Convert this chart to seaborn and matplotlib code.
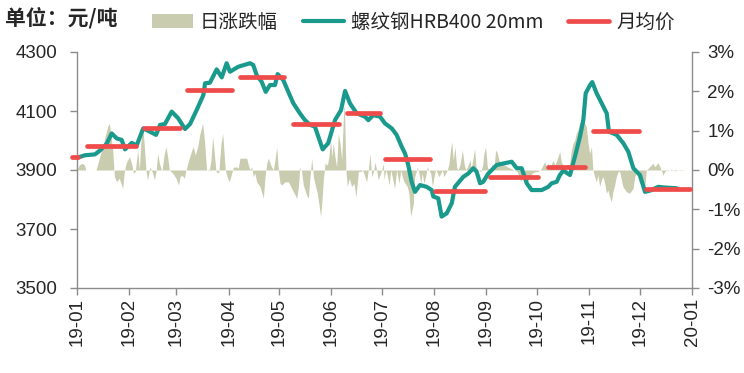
import numpy as np
import pandas as pd
import matplotlib
matplotlib.use("Agg")
import matplotlib.pyplot as plt
import seaborn as sns
from matplotlib.patches import Patch
from matplotlib.lines import Line2D
from matplotlib.ticker import FuncFormatter
import matplotlib.dates as mdates

# ---------------- data ----------------
# daily rebar price (元/吨), day offsets from 2019-01-01
price_day = [1, 4.7, 10.7, 13.6, 17.6, 20.6, 23.6, 26.5, 28.5, 32.5, 35.4, 39.3, 43.3, 46.9,
             49.3, 52.2, 56.2, 60.1, 64.1, 67.1, 71.0, 75.0, 76.0, 78.9, 82.9, 85.9, 88.8,
             90.8, 95.7, 102.7, 104.6, 106.6, 109.6, 112.0, 114.5, 117.5, 119.1, 122.4,
             125.4, 128.4, 132.3, 135.3, 138.3, 141.2, 145.8, 149.1, 153.1, 156.7, 159.1,
             162.0, 166.0, 170.9, 172.9, 175.8, 179.8, 182.8, 186.8, 189.7, 192.7, 194.7,
             196.6, 198.6, 200.6, 203.6, 207.5, 210.5, 211.5, 214.4, 216.4, 219.4, 222.4,
             224.3, 229.3, 232.2, 235.2, 237.2, 239.2, 241.1, 244.1, 249.1, 253.0, 258.0,
             261.0, 263.9, 266.9, 269.8, 275.8, 279.7, 281.7, 284.7, 286.6, 288.6, 292.6,
             295.5, 298.5, 300.5, 301.9, 304.5, 305.8, 308.4, 311.4, 314.4, 315.7, 320.3,
             324.2, 327.2, 330.2, 334.1, 337.1, 340.1, 345.0, 348.0, 356.0]
price_val = [3943, 3950, 3953, 3966, 3989, 4024, 4007, 4002, 3970, 3992, 3983, 4041, 4030, 4019,
             4053, 4056, 4098, 4075, 4039, 4056, 4103, 4154, 4194, 4196, 4241, 4214, 4262,
             4233, 4250, 4262, 4256, 4222, 4199, 4165, 4188, 4188, 4225, 4205,
             4165, 4126, 4092, 4069, 4053, 4047, 3970, 3991, 4069, 4103, 4168,
             4126, 4092, 4081, 4069, 4086, 4081, 4058, 4041, 4019, 3979, 3956,
             3917, 3860, 3826, 3849, 3843, 3832, 3810, 3804, 3742, 3753, 3787,
             3843, 3877, 3888, 3906, 3894, 3855, 3860, 3888, 3917, 3922, 3928,
             3906, 3906, 3855, 3832, 3832, 3843, 3855, 3860, 3883, 3898, 3883,
             3945, 4013, 4069, 4160, 4188, 4198, 4160, 4126, 4092, 4030, 4019,
             3991, 3962, 3906, 3883, 3826, 3830, 3843, 3841, 3838]

# monthly average price segments (start/end day offsets, value)
avg_start = [-3, 6, 40, 65, 97, 128, 160, 183, 212.5, 245, 279.5, 306, 337.7]
avg_end = [0.6, 35, 61, 92, 123, 155.5, 180, 209.5, 242, 273.5, 301.5, 333.5, 363.8]
avg_val = [3944, 3981, 4042, 4171, 4216, 4056, 4094, 3938, 3830, 3877, 3911, 4033, 3837]

# daily change (%)
chg_day = [0.4, 1.4, 3, 4.4, 5.3, 11.3, 15.2, 18.2, 19.2, 21.2, 22.2, 23.5, 25.1, 27.1, 28.1, 29.1,
           31.1, 32.6, 33.4, 34.6, 36, 37, 38, 39, 40, 41, 41.9, 43.3, 44.9, 45.9, 46.9, 47.9,
           48.9, 50.4, 51.8, 52.8, 53.8, 54.8, 56.8, 58.8, 60.3, 61.1, 62.3, 63.7, 64.7, 66.3,
           68.2, 69, 70.2, 71.6, 73, 74.6, 75.8, 76.9, 78.5, 79.5, 80.5, 81.5, 82.5, 84.1, 85.5,
           86.5, 88, 89.4, 90.4,
           91.8, 92.8, 94.8, 95.7, 96.7, 100.7, 101.7, 102.7, 103.7, 104.6, 105.6, 106.6, 108.6,
           110.6, 111.6, 112.6, 113.6, 114.9, 116.5, 117.5, 118.5, 119.5, 120.5, 121.5, 123.4,
           125.4, 126.4, 128.4, 130.4, 131.4, 132.3, 133.3, 134.3, 136.3, 137.3, 138.3, 139.3,
           140.3, 141.2, 142.6, 143.8, 144.6, 145.4, 146.2, 147.2, 148.6, 149.5, 150.5, 151.3,
           152.1, 153.1, 154.1, 155.1, 156.1, 157.1, 158.1, 158.7, 159.6, 160.4, 161.6, 163,
           164.4, 165.6, 167, 168.3, 169.5, 170.9, 171.9, 172.9, 173.9, 174.9, 175.9, 176.9,
           177.8, 178.8, 179.8, 180.8, 181.8,
           182.2, 183.2, 184.2, 185.2, 186.2, 187.1, 188.5, 189.7, 191.1, 192.1, 193.1, 194.1,
           196.0, 197.0, 198.0, 199.6, 200.4, 201.6, 202, 203, 204, 204.9, 205.9, 206.9, 207.9,
           208.9, 209.9, 210.9, 211.9, 212.9, 213.9, 214.8, 216.8, 217.8, 218.8, 219.8, 220.8,
           221.4, 222.4, 223.3, 224.3, 225.3, 226.1, 227.3, 228.7, 229.7, 230.7, 231.7, 233.2,
           234, 235.2, 236, 236.8, 238, 239.6, 240.8, 241.5, 242.5, 243.5, 244.5, 245.5, 246.5,
           247.5, 248.5, 249.5, 250.4, 251.4, 253.4, 255.4, 257.4, 259.4, 261.3, 262.3, 263.3,
           264.3, 265.3, 266.3, 267.3, 268.3, 270.2, 272.2, 273.2,
           274.6, 275.6, 276.6, 277.6, 278.5, 279.5, 280.5, 281.5, 282.5, 283.5, 284.5, 285.5,
           286.5, 287.4, 288.4, 289.4, 290.4, 291.4, 292.4, 293.4, 294.4, 295.4, 296.3, 297.3,
           298.3, 299.3, 300.3, 301.3, 302.3, 303.3, 304.3, 305.3, 306.2, 307.2, 308.2, 309.2,
           310.2, 311.2, 312.2, 313.2, 314.2, 315.1, 316.1, 317.1, 318.1, 319.1, 320.1, 321.1,
           322.1, 323.1, 324.0, 326, 328, 330, 331, 332, 333, 333.9, 335.9, 336.9, 337.9, 338.9,
           340.9, 341.9, 342.8, 343.8, 344.8, 346.4, 347.8, 348.8, 349.8, 350.8, 352.7, 354.7,
           356.7, 358.7, 360.6]
chg_val = [0.04, 0.13, 0.17, 0.13, 0, 0, 0.59, 1.10, 1.19, 0.51, -0.17, -0.30, -0.21, -0.47, -0.04, 0.17,
           0.34, 0.13, -0.08, -0.04, 0.51, 0, 0.76, 1.10, 0.59, -0.04, -0.25, 0.08, -0.08, -0.25, -0.04, 0.42,
           0.17, -0.04, 0.42, 0.59, 0.34, 0, -0.08, -0.21, -0.38, -0.17, -0.13, -0.21, 0, 0.25,
           0.51, 0.59, 0.38, 0.59, 0.93, 1.19, 0.68, 0, -0.02, 0.25, 0.85, 0.42, -0.04, -0.08, 0.68,
           0.93, 0, -0.21, -0.30,
           -0.08, 0.07, 0.08, 0.04, 0.30, 0.30, 0.13, 0, 0.08, -0.17, -0.08, -0.30, -0.42,
           -0.72, -0.17, 0.17, 0.30, 0.13, 0, 0.25, 0.59, 0, -0.34, -0.38, -0.30,
           -0.30, -0.38, -0.55, -0.72, -0.42, 0.08, -0.04, -0.38, -0.64, -0.72, -0.17, 0.30,
           -0.17, -0.34, -0.59, -0.93, -1.19, -0.76, -0.25, 0.17, 0.13, 0.34, 0.76, 0.34,
           0.68, 0.34, 0.08, 0.93, 0.68, 0.25, 1.36, 1.68, 0, -0.42, -0.21, -0.42,
           -0.34, -0.68, -0.04, -0.04, 0, -0.17, -0.30, 0, 0.42, -0.17, -0.04, 0.21,
           0, -0.25, -0.13, 0, 0.17,
           -0.25, 0, -0.13, -0.38, 0, -0.17, -0.47, 0, -0.34, 0, -0.17, -0.30,
           -0.42, -0.59, -1.19, -0.85, -0.17, 0, 0.08, -0.08, -0.34, -0.08, -0.34, -0.17, 0.08,
           0, -0.08, -0.42, -0.17, 0.04, -0.08, -0.17, 0, -0.17, -0.08, 0, 0.17,
           0.42, 0.72, 0.25, 0.59, 0.08, 0, 0.13, 0.51, 0.17, 0, 0.08, 0.25,
           0.04, 0.34, 0.55, 0.08, 0, -0.04, 0.13, 0.42, 0.59, 0.08, 0, -0.04, 0.17,
           0.08, 0.51, 0.42, 0.25, 0.17, 0.13, 0.08, 0.04, 0, -0.04, -0.17, -0.30,
           -0.13, -0.08, -0.17, -0.34, -0.21, -0.08, -0.04, -0.04,
           0, 0.04, 0.13, 0.21, 0.08, 0.17, 0.04, 0.13, 0.25, 0.13, 0.21, 0.34,
           0.47, 0.21, 0.13, 0.04, -0.04, 0, 0.17, 0.51, 0.68, 0.76, 0.93, 1.02,
           1.19, 1.27, 1.36, 1.19, 1.10, 0.68, 0.42, 0.59, 0, -0.17, -0.30, -0.13,
           -0.42, -0.25, -0.17, -0.34, -0.59, -0.51, -0.68, -0.81, -0.55, -0.38, -0.17, -0.04,
           -0.04, -0.25, -0.42, -0.55, -0.59, -0.47, -0.17, -0.08, -0.21, -0.34, -0.38, -0.47, 0, 0.04,
           0.13, 0.17, 0.08, 0.13, 0.19, 0.04, -0.13, -0.04, 0, -0.02, 0.02, -0.02,
           0, -0.01, 0]

left_ticks = [3500, 3700, 3900, 4100, 4300]
right_ticks = [-3, -2, -1, 0, 1, 2, 3]
month_ticks = ["2019-%02d-01" % m for m in range(1, 13)] + ["2020-01-01"]

# ---------------- build ----------------
base = pd.Timestamp("2019-01-01")
def to_dates(days):
    return base + pd.to_timedelta(np.asarray(days, dtype=float), unit="D")

price_df = pd.DataFrame({"date": to_dates(price_day), "price": price_val})
chg_df = pd.DataFrame({"date": to_dates(chg_day), "chg": chg_val})

TEAL = "#1a9a8c"
RED = "#ef4b4b"
AREA = "#c9ccae"
GRAY = "#8c8c8c"
TXT = "#262626"

sns.set_theme(style="white")
plt.rcParams["font.family"] = ["Noto Sans CJK SC", "DejaVu Sans"]

fig = plt.figure(figsize=(7.44, 3.73), dpi=100)
ax = fig.add_axes([77/744, 1-288/373, (692-77)/744, (288-52)/373])
ax2 = ax.twinx()

# area (right axis)
ax2.fill_between(chg_df["date"], 0, chg_df["chg"], color=AREA, linewidth=0)
ax2.set_ylim(-3, 3)

# price line and monthly averages (left axis)
sns.lineplot(data=price_df, x="date", y="price", ax=ax, color=TEAL, linewidth=3.0, legend=False)
for s, e, v in zip(avg_start, avg_end, avg_val):
    ax.plot(to_dates([s, e]), [v, v], color=RED, linewidth=3.4, solid_capstyle="round",
            clip_on=False, zorder=5)

ax.set_zorder(ax2.get_zorder() + 1)
ax.patch.set_visible(False)

ax.set_ylim(3500, 4300)
ax.set_xlim(pd.Timestamp("2019-01-01"), pd.Timestamp("2020-01-01"))
ax.set_yticks(left_ticks)
ax.set_xticks(pd.to_datetime(month_ticks))
ax.xaxis.set_major_formatter(mdates.DateFormatter("%y-%m"))
ax2.set_yticks(right_ticks)
ax2.yaxis.set_major_formatter(FuncFormatter(lambda v, p: "%d%%" % v))
ax.set_xlabel("")
ax.set_ylabel("")

tickfont = {"family": ["Liberation Sans", "DejaVu Sans"], "size": 13.5}
for lab in ax.get_yticklabels() + ax2.get_yticklabels():
    lab.set_fontfamily(tickfont["family"]); lab.set_fontsize(tickfont["size"]); lab.set_color(TXT)
for lab in ax.get_xticklabels():
    lab.set_fontfamily(tickfont["family"]); lab.set_fontsize(tickfont["size"]); lab.set_color(TXT)
    lab.set_rotation(90)

for a in (ax, ax2):
    for sp in a.spines.values():
        sp.set_color(GRAY); sp.set_linewidth(1.0)
    a.spines["top"].set_visible(False)
ax.spines["right"].set_visible(False)
ax2.spines["left"].set_visible(False)
ax2.spines["bottom"].set_visible(False)

ax.tick_params(axis="y", which="major", direction="out", length=5, width=1, color=GRAY, pad=9, left=True)
ax.tick_params(axis="x", which="major", direction="out", length=5, width=1, color=GRAY, pad=2, bottom=True)
ax2.tick_params(axis="y", which="major", direction="out", length=5, width=1, color=GRAY, pad=6, right=True)

# legend & unit label
handles = [Patch(facecolor=AREA, edgecolor="none"),
           Line2D([0], [0], color=TEAL, linewidth=3.0),
           Line2D([0], [0], color=RED, linewidth=3.4, solid_capstyle="round")]
labels = ["日涨跌幅", "螺纹钢HRB400 20mm", "月均价"]
fig.legend(handles, labels, loc="center left", bbox_to_anchor=(152/744, 1-22/373), ncol=3,
           frameon=False, fontsize=14, handlelength=2.1, handletextpad=0.35, columnspacing=1.3,
           borderpad=0, borderaxespad=0, labelcolor=TXT)
fig.text(5/744, 1-18/373, "单位：元/吨", fontsize=15, fontweight="bold", va="center", ha="left",
         color=TXT)

fig.savefig("out.png", dpi=100)
